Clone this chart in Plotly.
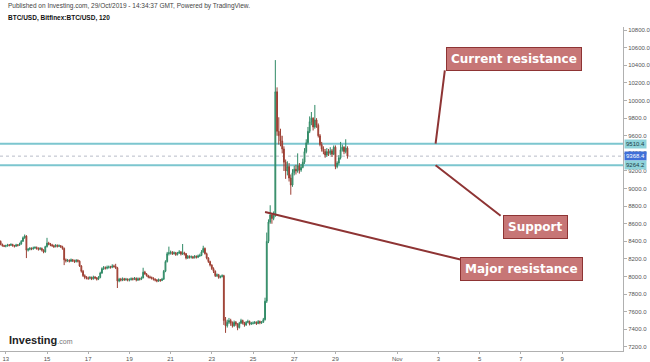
import plotly.graph_objects as go
import pandas as pd

# ---------------- data (BTC/USD, 2h candles) ----------------
first_open = 8400
closes = [
    8365, 8350, 8345,
    8350, 8360, 8355, 8365, 8350, 8345, 8360, 8355, 8370, 8400, 8440, 8460,
    8300, 8310, 8320, 8315, 8325, 8330, 8320, 8310, 8320, 8300, 8280, 8340,
    8380, 8370, 8360, 8350, 8340, 8355, 8345, 8350, 8340, 8320, 8190, 8180,
    8185, 8175, 8190, 8180, 8170, 8185, 8175, 8120, 8060, 8010, 7990, 7985,
    7980, 7990, 7975, 7995, 7985, 7970, 7990, 8040, 8090, 8100, 8095, 8105,
    8110, 8105, 8120, 8115, 8100, 7950, 7970, 7960, 7975, 7965, 7970, 7960,
    7965, 7975, 7970, 7980, 7960, 7975, 7970, 7985, 8050, 8030, 8010, 7995,
    7990, 7980, 7970, 7960, 7950, 7965, 7955, 7970, 8060, 8170, 8260, 8270,
    8275, 8260, 8270, 8250, 8265, 8280, 8255, 8270, 8260, 8210, 8230, 8220,
    8225, 8215, 8230, 8220, 8235, 8240, 8280, 8320, 8260, 8210, 8170, 8130,
    8090, 8060, 8010, 8020, 7990, 8000, 8010, 7500, 7440, 7480, 7500, 7470,
    7440, 7480, 7460, 7420, 7470, 7500, 7470, 7450, 7480, 7490, 7460, 7470,
    7470, 7480, 7465, 7490, 7475, 7480, 7510, 7720, 8400, 8620, 8700, 8660,
    8690, 10100, 9650, 9600, 9540, 9450, 9300, 9200, 9250, 9120, 9040, 9180,
    9220, 9200, 9260, 9210, 9240, 9300, 9420, 9520, 9650, 9760, 9800, 9700,
    9780, 9720, 9600, 9500, 9450, 9420, 9380, 9420, 9400, 9430, 9390, 9470,
    9250, 9290, 9350, 9440, 9470, 9420, 9460, 9368.4,
]
highs = [
    8410, 8375, 8360,
    8362, 8372, 8370, 8378, 8372, 8360, 8372, 8368, 8385, 8415, 8455, 8478,
    8470, 8325, 8335, 8332, 8340, 8345, 8342, 8332, 8335, 8330, 8310, 8350,
    8440, 8395, 8382, 8372, 8362, 8368, 8365, 8365, 8358, 8350, 8330, 8205,
    8200, 8195, 8205, 8200, 8192, 8198, 8195, 8185, 8130, 8075, 8025, 8005,
    8000, 8005, 8000, 8010, 8005, 7995, 8005, 8055, 8105, 8120, 8115, 8125,
    8125, 8122, 8140, 8135, 8145, 8110, 7985, 7985, 7990, 7985, 7985, 7980,
    7980, 7990, 7988, 7995, 7990, 7990, 7988, 8000, 8100, 8065, 8040, 8020,
    8010, 8000, 7992, 7980, 7972, 7978, 7972, 7985, 8075, 8185, 8280, 8340,
    8295, 8290, 8285, 8280, 8280, 8300, 8290, 8370, 8282, 8268, 8245, 8240,
    8240, 8235, 8245, 8240, 8250, 8260, 8300, 8350, 8330, 8272, 8220, 8180,
    8140, 8105, 8070, 8035, 8030, 8012, 8025, 8020, 7540, 7510, 7530, 7520,
    7490, 7500, 7495, 7470, 7485, 7520, 7510, 7485, 7495, 7510, 7500, 7485,
    7490, 7495, 7490, 7505, 7500, 7495, 7530, 7760, 8500, 8650, 8810, 8720,
    8740, 10460, 10150, 9810, 9680, 9600, 9480, 9330, 9310, 9290, 9160, 9220,
    9260, 9270, 9400, 9290, 9280, 9340, 9460, 9560, 9700, 9820, 9870, 9810,
    9950, 9800, 9740, 9620, 9530, 9480, 9450, 9460, 9450, 9470, 9450, 9490,
    9490, 9310, 9380, 9530, 9500, 9480, 9560, 9480,
]
lows = [
    8355, 8340, 8335,
    8332, 8340, 8342, 8348, 8340, 8330, 8338, 8342, 8350, 8362, 8395, 8430,
    8210, 8285, 8298, 8300, 8305, 8315, 8305, 8295, 8300, 8285, 8265, 8272,
    8330, 8355, 8345, 8338, 8325, 8332, 8330, 8335, 8325, 8305, 8130, 8160,
    8165, 8160, 8165, 8165, 8155, 8160, 8160, 8110, 8045, 7995, 7970, 7968,
    7962, 7968, 7960, 7965, 7970, 7955, 7960, 7980, 8030, 8075, 8080, 8082,
    8090, 8090, 8095, 8100, 8085, 7870, 7935, 7945, 7948, 7950, 7952, 7945,
    7945, 7955, 7955, 7960, 7945, 7950, 7955, 7960, 7980, 8020, 8000, 7980,
    7975, 7965, 7955, 7945, 7935, 7940, 7940, 7948, 7962, 8050, 8160, 8240,
    8250, 8245, 8250, 8235, 8240, 8258, 8240, 8245, 8240, 8195, 8200, 8205,
    8205, 8200, 8205, 8205, 8210, 8222, 8232, 8270, 8250, 8195, 8155, 8115,
    8075, 8040, 7995, 7995, 7975, 7980, 7990, 7450, 7360, 7420, 7460, 7440,
    7420, 7430, 7440, 7390, 7410, 7460, 7455, 7430, 7440, 7470, 7445, 7450,
    7455, 7460, 7450, 7460, 7458, 7462, 7475, 7500, 7700, 8380, 8600, 8600,
    8640, 8680, 9600, 9500, 9480, 9400, 9200, 9110, 9150, 9080, 8930, 9020,
    9150, 9160, 9180, 9170, 9190, 9230, 9280, 9400, 9500, 9630, 9720, 9660,
    9680, 9690, 9580, 9480, 9420, 9390, 9350, 9360, 9370, 9380, 9360, 9380,
    9220, 9230, 9270, 9330, 9420, 9390, 9400, 9340,
]
opens = [first_open] + closes[:-1]
times = pd.date_range("2019-10-12 18:00", periods=len(closes), freq="2h")

# key levels
resistance_level = 9510.4
last_price = 9368.4
support_level = 9264.2

# axis ticks
y_ticks = list(range(7200, 10801, 200))
x_tick_dates = ["2019-10-13", "2019-10-15", "2019-10-17", "2019-10-19", "2019-10-21",
                "2019-10-23", "2019-10-25", "2019-10-27", "2019-10-29", "2019-11-01",
                "2019-11-03", "2019-11-05", "2019-11-07", "2019-11-09"]
x_tick_text = ["13", "15", "17", "19", "21", "23", "25", "27", "29", "Nov", "3", "5", "7", "9"]

# callouts: (text, box center x, box center y, tip x, tip y, tail x, tail y)
callouts = [
    ("Current resistance", "2019-11-06 16:00", 10473, "2019-11-02 20:40", resistance_level, "2019-11-03 07:40", 10359),
    ("Support", "2019-11-07 16:30", 8564, "2019-11-02 20:40", support_level, "2019-11-06 02:10", 8677),
    ("Major resistance", "2019-11-07 00:45", 8086, "2019-10-25 14:00", 8734, "2019-11-04 03:20", 8189),
]

# ---------------- figure ----------------
fig = go.Figure()
fig.add_trace(go.Candlestick(
    x=times, open=opens, high=highs, low=lows, close=closes,
    increasing=dict(line=dict(color="#2f8a66", width=1), fillcolor="#6ba583"),
    decreasing=dict(line=dict(color="#9c3f33", width=1), fillcolor="#d75442"),
    whiskerwidth=0, showlegend=False, hoverinfo="skip",
))

line_col = "#7cc6cf"
for lvl in (resistance_level, support_level):
    fig.add_shape(type="line", xref="paper", x0=0, x1=1, yref="y", y0=lvl, y1=lvl,
                  line=dict(color=line_col, width=2), layer="below")
fig.add_shape(type="line", xref="paper", x0=0, x1=1, yref="y", y0=last_price, y1=last_price,
              line=dict(color="#b8bcc8", width=1, dash="dot"), layer="below")

ann = []
for text, bx, by, tx, ty, ax_, ay_ in callouts:
    ann.append(dict(x=tx, y=ty, xref="x", yref="y", ax=ax_, ay=ay_, axref="x", ayref="y",
                    text="", showarrow=True, arrowhead=0, arrowwidth=2, arrowcolor="#8e3434"))
for text, bx, by, tx, ty, ax_, ay_ in callouts:
    ann.append(dict(x=bx, y=by, xref="x", yref="y", text="<b>%s</b>" % text, showarrow=False,
                    font=dict(family="DejaVu Sans", size=12, color="white"),
                    bgcolor="#c77676", bordercolor="#8e3434", borderwidth=1, borderpad=4,
                    xanchor="center", yanchor="middle"))

# price labels on the axis
for lvl, bg, fg in ((resistance_level, "#8fd3da", "#1d3d45"),
                    (last_price, "#3f6fd8", "white"),
                    (support_level, "#8fd3da", "#1d3d45")):
    ann.append(dict(x=1, xref="paper", xanchor="left", xshift=1, y=lvl, yref="y",
                    yanchor="middle", text="%.1f" % lvl, showarrow=False,
                    font=dict(family="Liberation Sans", size=6, color=fg),
                    bgcolor=bg, borderpad=1))

# header and logo
ann.append(dict(x=0, xref="paper", xshift=6, xanchor="left", y=1.065, yref="paper", yanchor="middle",
                text="Published on Investing.com, 29/Oct/2019 - 14:34:37 GMT, Powered by TradingView.",
                showarrow=False, font=dict(family="Liberation Sans", size=6.5, color="#444")))
ann.append(dict(x=0, xref="paper", xshift=6, xanchor="left", y=1.028, yref="paper", yanchor="middle",
                text="<b>BTC/USD, Bitfinex:BTC/USD, 120</b>",
                showarrow=False, font=dict(family="Liberation Sans", size=6.5, color="#111")))
ann.append(dict(x=0, xref="paper", xshift=7, xanchor="left", y=0.034, yref="paper", yanchor="middle",
                text="<b>Investing</b><span style='font-size:7px;color:#777'>.com</span>",
                showarrow=False, font=dict(family="Liberation Sans", size=11, color="#222")))

fig.update_layout(
    width=650, height=362,
    margin=dict(l=0, r=27, t=27, b=11, autoexpand=False),
    paper_bgcolor="white", plot_bgcolor="white",
    annotations=ann,
    xaxis=dict(range=["2019-10-12 17:15", "2019-11-11 23:00"], rangeslider=dict(visible=False),
               tickvals=x_tick_dates, ticktext=x_tick_text, showgrid=False, zeroline=False,
               showline=True, linecolor="#b0b0b0", linewidth=1, ticks="outside", ticklen=2,
               tickcolor="#b0b0b0", tickfont=dict(family="Liberation Sans", size=6, color="#555"),
               automargin=False),
    yaxis=dict(range=[7154, 10836], side="right", tickvals=y_ticks, tickformat=".1f",
               showgrid=False, zeroline=False, showline=True, linecolor="#b0b0b0", linewidth=1,
               ticks="outside", ticklen=3, tickcolor="#b0b0b0",
               tickfont=dict(family="Liberation Sans", size=6, color="#555"), automargin=False),
)

fig.write_html("out.html", config={"displayModeBar": False},
               post_script="document.body.style.margin='0';document.body.style.overflow='hidden';")
